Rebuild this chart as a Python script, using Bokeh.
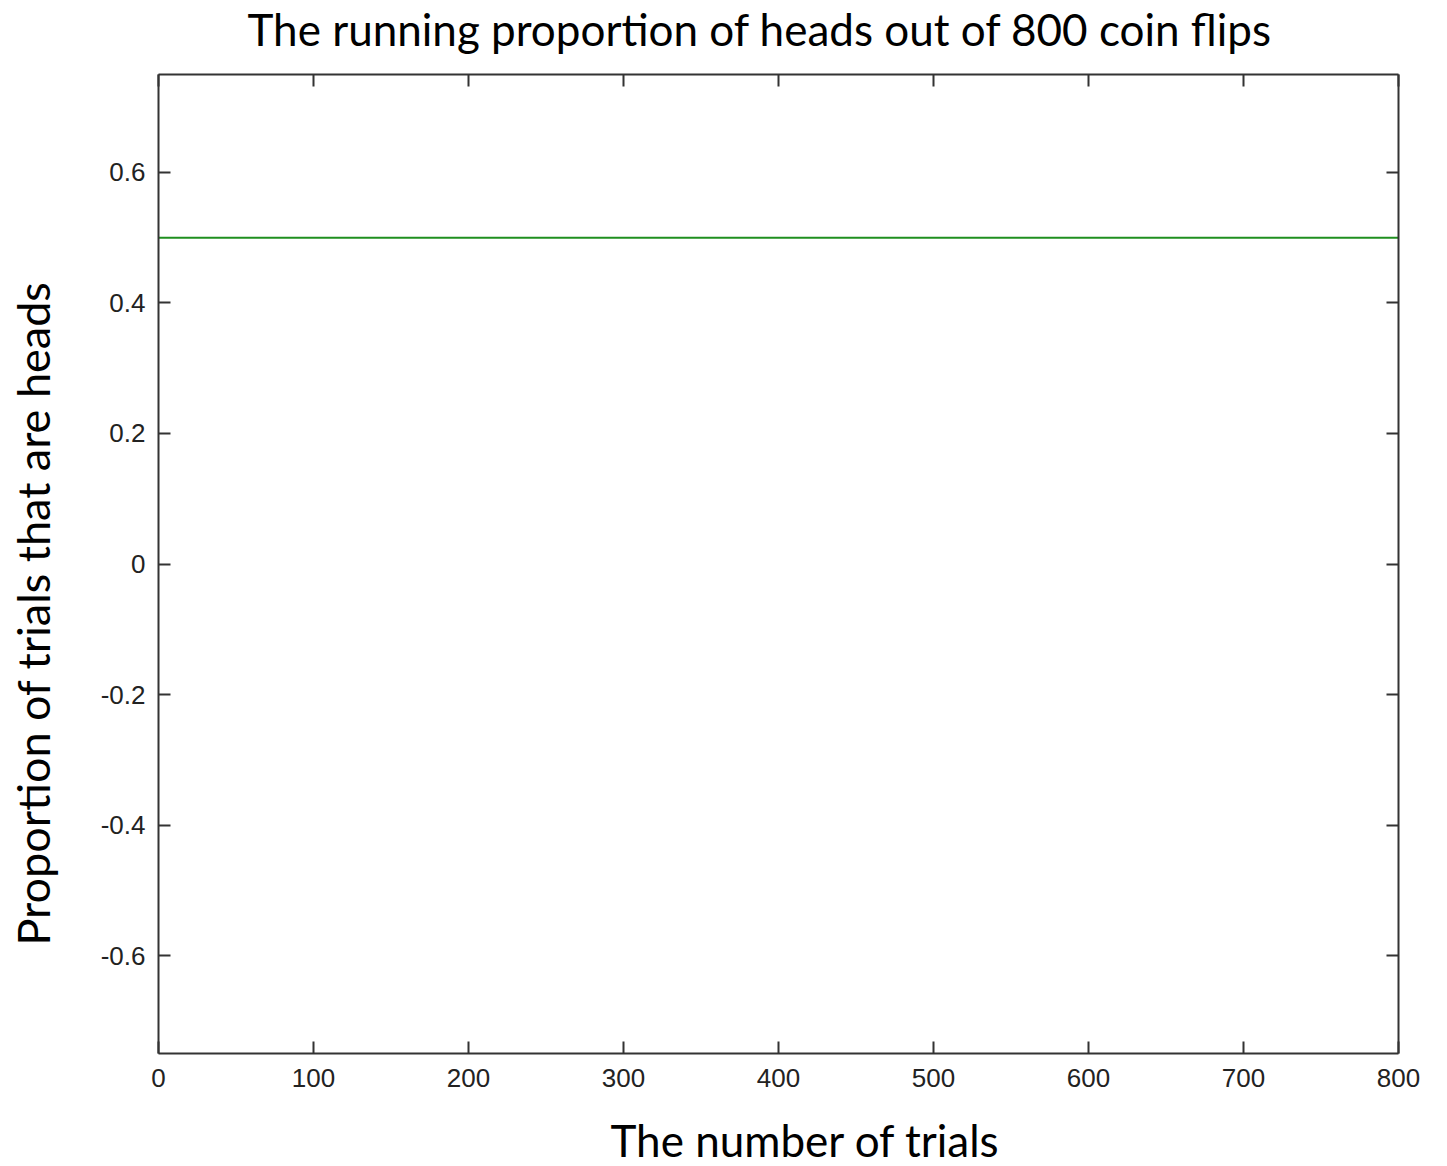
from bokeh.plotting import figure
from bokeh.models import LinearAxis, FixedTicker, Range1d, Title
from bokeh.embed import file_html
from bokeh.resources import INLINE

# ---- data ----
trials = [0, 800]
proportion_heads = [0.5, 0.5]

x_ticks = [0, 100, 200, 300, 400, 500, 600, 700, 800]
x_tick_labels = ["0", "100", "200", "300", "400", "500", "600", "700", "800"]
y_ticks = [-0.6, -0.4, -0.2, 0, 0.2, 0.4, 0.6]
y_tick_labels = ["-0.6", "-0.4", "-0.2", "0", "0.2", "0.4", "0.6"]

title_text = "The running proportion of heads out of 800 coin flips"
x_label = "The number of trials"
y_label = "Proportion of trials that are heads"

LABEL_FONT = "Lato"
TICK_FONT = "Liberation Sans"
AXIS_COLOR = "#333333"

p = figure(
    frame_width=1240, frame_height=979,
    x_range=Range1d(0, 800), y_range=Range1d(-0.75, 0.75),
    output_backend="svg", toolbar_location=None,
    x_axis_location=None, y_axis_location=None,
    min_border_left=158, min_border_top=74, min_border_right=30, min_border_bottom=113,
)
p.grid.visible = False
p.outline_line_color = None
p.background_fill_color = "white"
p.border_fill_color = "white"

p.line(trials, proportion_heads, line_color="#1f8f1f", line_width=2)

def style_axis(ax, ticks, labels, show_labels=True):
    ax.ticker = FixedTicker(ticks=ticks)
    ax.major_label_overrides = {t: l for t, l in zip(ticks, labels)}
    ax.major_tick_in = 12
    ax.major_tick_out = 0
    ax.minor_tick_in = 0
    ax.minor_tick_out = 0
    ax.axis_line_color = AXIS_COLOR
    ax.axis_line_width = 2
    ax.major_tick_line_color = AXIS_COLOR
    ax.major_tick_line_width = 2
    ax.major_label_text_font = TICK_FONT
    ax.major_label_text_font_size = "26px"
    ax.major_label_text_color = "#222222" if show_labels else None

def spacer(ticks, size):
    ax = LinearAxis(ticker=FixedTicker(ticks=ticks))
    ax.axis_line_color = None
    ax.major_tick_line_color = None
    ax.minor_tick_line_color = None
    ax.major_tick_in = 0
    ax.major_tick_out = size
    ax.minor_tick_in = 0
    ax.minor_tick_out = 0
    ax.major_label_text_color = None
    return ax

def make_title(text, offset, size="44px"):
    return Title(text=text, align="left", text_font=LABEL_FONT,
                 text_font_size=size, text_font_style="normal",
                 text_color="black", offset=offset, standoff=0)

# bottom: tick axis, gap, label
xb = LinearAxis()
style_axis(xb, x_ticks, x_tick_labels)
xb.major_label_standoff = 15
p.add_layout(xb, "below")
p.add_layout(spacer(x_ticks, 22), "below")
p.add_layout(make_title(x_label, 452), "below")

# top: mirrored ticks, gap, title
xt = LinearAxis()
style_axis(xt, x_ticks, x_tick_labels, show_labels=False)
p.add_layout(xt, "above")
p.add_layout(spacer(x_ticks, 20), "above")
p.add_layout(make_title(title_text, 89), "above")

# left: tick axis, gap, label
yl = LinearAxis()
style_axis(yl, y_ticks, y_tick_labels)
yl.major_label_standoff = 13
p.add_layout(yl, "left")
p.add_layout(spacer(y_ticks, 38), "left")
p.add_layout(make_title(y_label, 108, "45px"), "left")

# right: mirrored ticks
yr = LinearAxis()
style_axis(yr, y_ticks, y_tick_labels, show_labels=False)
p.add_layout(yr, "right")

open("out.html", "w").write(file_html(p, INLINE))
